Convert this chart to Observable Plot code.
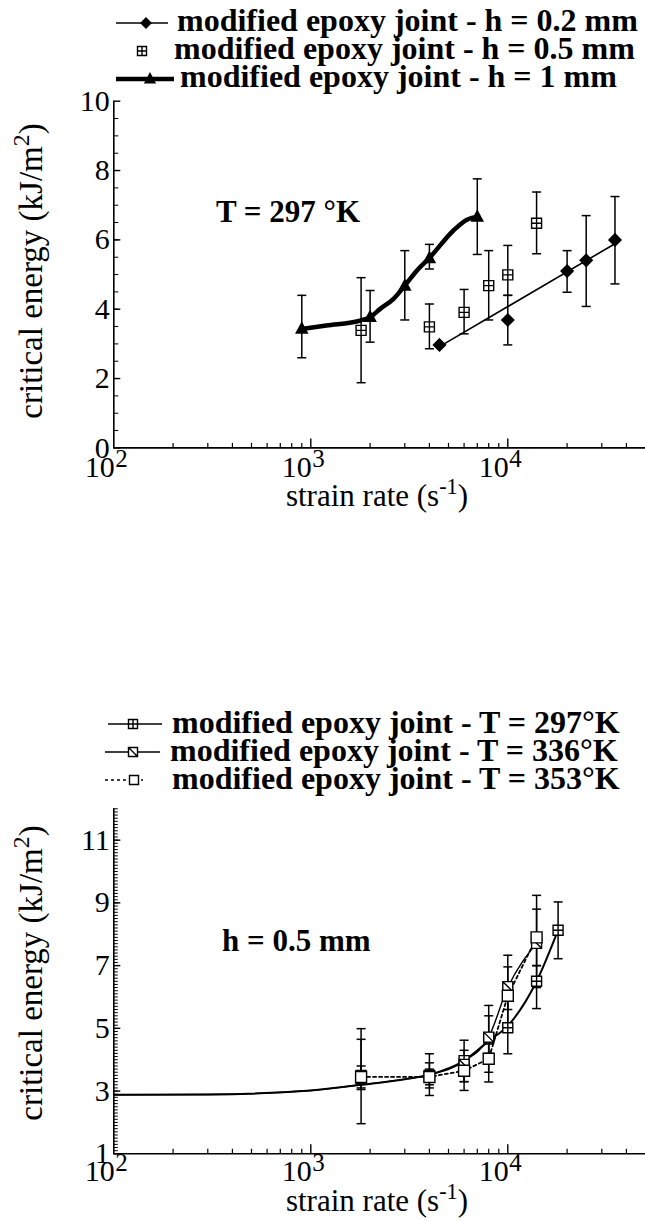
<!DOCTYPE html>
<html>
<head>
<meta charset="utf-8">
<script src="https://cdn.jsdelivr.net/npm/d3@7"></script>
<script src="https://cdn.jsdelivr.net/npm/@observablehq/plot@0.6"></script>
<style>
html,body{margin:0;padding:0;background:#fff;}
#page{position:relative;width:645px;height:1221px;overflow:hidden;background:#fff;}
.plot{position:absolute;left:0;}
#overlay{position:absolute;left:0;top:0;pointer-events:none;}
</style>
</head>
<body>
<div id="page">
  <div id="top" class="plot" style="top:85px"></div>
  <div id="bottom" class="plot" style="top:790px"></div>
  <svg id="overlay" width="645" height="1221"></svg>
</div>
<script>
// ---------------- data ----------------
const rateMajor = [100, 1000, 10000];
const rateExponent = ["2", "3", "4"];
const rateMinor = [200, 300, 400, 500, 600, 700, 800, 900, 2000, 3000, 4000, 5000, 6000, 7000, 8000, 9000, 20000, 30000, 40000];
const rateDomain = [100, 50000];

const topEnergyTicks = [0, 2, 4, 6, 8, 10];
const topEnergyDomain = [0, 10];
const botEnergyTicks = [1, 3, 5, 7, 9, 11];
const botEnergyDomain = [1, 12];

const xLabel = ["strain rate (s", "-1", ")"];
const yLabel = ["critical energy (kJ/m", "2", ")"];

// top panel (T = 297 K)
const topLegend = ["modified epoxy joint - h = 0.2 mm", "modified epoxy joint - h = 0.5 mm", "modified epoxy joint - h = 1 mm"];
const topNote = "T = 297 °K";

const h02Rate = [4500, 10000, 20000, 25000, 35000];
const h02Energy = [2.97, 3.69, 5.10, 5.41, 6.00];
const h02Low = [null, 2.97, 4.49, 4.08, 4.73];
const h02High = [null, 4.40, 5.69, 6.70, 7.25];
const h02FitRate = [4500, 35000];
const h02FitEnergy = [2.92, 5.89];

const h05Rate = [1800, 4000, 6000, 8000, 10000, 14000];
const h05Energy = [3.39, 3.49, 3.91, 4.68, 4.99, 6.48];
const h05Low = [1.88, 2.86, 3.29, 3.69, 4.40, 5.60];
const h05High = [4.91, 4.15, 4.57, 5.69, 5.84, 7.38];

const h1Rate = [900, 2000, 3000, 4000, 7000];
const h1Energy = [3.43, 3.77, 4.67, 5.47, 6.66];
const h1Low = [2.60, 3.05, 3.69, 5.16, 5.58];
const h1High = [4.40, 4.54, 5.69, 5.87, 7.76];
const h1FitRate = [900, 1200, 1800, 2000, 2250, 2630, 3000, 3460, 4000, 5300, 6200, 7000];
const h1FitEnergy = [3.43, 3.53, 3.68, 3.77, 4.01, 4.30, 4.68, 5.12, 5.48, 6.27, 6.58, 6.67];

// bottom panel (h = 0.5 mm)
const botLegend = ["modified epoxy joint - T = 297°K", "modified epoxy joint - T = 336°K", "modified epoxy joint - T = 353°K"];
const botNote = "h = 0.5 mm";

const t297Rate = [1800, 4000, 6000, 8000, 10000, 14000, 18000];
const t297Energy = [3.40, 3.50, 3.97, 4.70, 5.02, 6.50, 8.13];
const t297Low = [1.96, 2.86, 3.30, 4.20, 4.19, 5.63, 7.22];
const t297High = [4.99, 4.19, 4.62, 5.73, 5.90, 7.00, 9.03];
const t297FitRate = [100, 300, 1000, 1800, 3000, 4000, 6000, 8000, 10000, 14000, 18000];
const t297FitEnergy = [2.88, 2.89, 3.02, 3.20, 3.38, 3.52, 3.97, 4.60, 5.08, 6.50, 8.13];

const t336Rate = [1800, 4000, 6000, 8000, 10000, 14000];
const t336Energy = [3.50, 3.50, 3.85, 4.72, 6.33, 7.71];
const t336Low = [3.05, 3.10, 3.02, 3.60, 5.60, 6.30];
const t336High = [4.65, 3.90, 4.30, 5.40, 7.33, 8.80];
const t336FitRate = [100, 300, 1000, 1800, 3000, 4000, 6000, 8000, 10000, 14000];
const t336FitEnergy = [2.88, 2.89, 3.02, 3.20, 3.38, 3.52, 3.95, 4.72, 6.30, 7.71];

const t353Rate = [1800, 4000, 6000, 8000, 10000, 14000];
const t353Energy = [3.45, 3.45, 3.65, 4.03, 6.04, 7.90];
const t353Low = [3.10, 3.20, 3.30, 3.29, 5.00, 7.00];
const t353High = [3.80, 3.70, 3.90, 4.50, 6.96, 9.24];

// ---------------- helpers ----------------
const rows = (xs, ys, lo, hi) => xs.map((x, i) => ({rate: x, energy: ys[i], low: lo ? lo[i] : null, high: hi ? hi[i] : null}));
const FONT = '"Liberation Serif","Times New Roman",serif';

const sym = {
  squareCross: h => ({draw(c) { c.moveTo(-h, -h); c.lineTo(h, -h); c.lineTo(h, h); c.lineTo(-h, h); c.closePath(); c.moveTo(0, -h); c.lineTo(0, h); c.moveTo(-h, 0); c.lineTo(h, 0); }}),
  squareSlash: h => ({draw(c) { c.moveTo(-h, -h); c.lineTo(h, -h); c.lineTo(h, h); c.lineTo(-h, h); c.closePath(); c.moveTo(-h, -h); c.lineTo(h, h); }}),
  square: h => ({draw(c) { c.moveTo(-h, -h); c.lineTo(h, -h); c.lineTo(h, h); c.lineTo(-h, h); c.closePath(); }}),
  diamond: h => ({draw(c) { c.moveTo(0, -h); c.lineTo(h, 0); c.lineTo(0, h); c.lineTo(-h, 0); c.closePath(); }}),
  triangle: h => ({draw(c) { c.moveTo(0, -h * 1.1); c.lineTo(h, h * 0.75); c.lineTo(-h, h * 0.75); c.closePath(); }}),
  cap: h => ({draw(c) { c.moveTo(-h, 0); c.lineTo(h, 0); }})
};
const capSym = sym.cap(4.5);

function errorMarks(data) {
  const d = data.filter(r => r.low != null);
  return [
    Plot.ruleX(d, {x: "rate", y1: "low", y2: "high", stroke: "black", strokeWidth: 1.5}),
    Plot.dot(d, {x: "rate", y: "low", symbol: capSym, stroke: "black", fill: "none", strokeWidth: 1.5}),
    Plot.dot(d, {x: "rate", y: "high", symbol: capSym, stroke: "black", fill: "none", strokeWidth: 1.5})
  ];
}

const W = 645, ML = 113.3, MB = 60;

function frameMarks(yDomain, innerH, yTicks, yMinor, minorLen, tickDy) {
  const innerW = W - ML;
  const y0 = yDomain[0];
  return [
    Plot.tickX(rateMinor, {x: d => d, insetTop: innerH - 4.5, stroke: "black", strokeWidth: 1.2}),
    Plot.tickX(rateMajor.slice(1), {x: d => d, insetTop: innerH - 9, stroke: "black", strokeWidth: 1.4}),
    Plot.tickY(yMinor, {y: d => d, insetRight: innerW - minorLen, stroke: "black", strokeWidth: 1}),
    Plot.tickY(yTicks, {y: d => d, insetRight: innerW - 7, stroke: "black", strokeWidth: 1.4}),
    Plot.ruleY([y0], {stroke: "black", strokeWidth: 1.6}),
    Plot.ruleX([rateDomain[0]], {stroke: "black", strokeWidth: 1.6}),
    Plot.axisY({ticks: yTicks, tickSize: 0, tickPadding: 4, fontSize: 30, label: null, tickFormat: d => String(d)}),
    Plot.text(rateMajor, {x: d => d, y: () => y0, text: () => "10", textAnchor: "end", lineAnchor: "bottom", dy: tickDy, dx: 1, fontSize: 30}),
    Plot.text(rateMajor, {x: d => d, y: () => y0, text: (d, i) => rateExponent[i], textAnchor: "start", lineAnchor: "bottom", dy: tickDy - 10, dx: 1.5, fontSize: 25})
  ];
}

function makePlot({height, marginTop, yDomain, yTicks, yMinor, minorLen, tickDy, marks}) {
  const innerH = height - marginTop - MB;
  return Plot.plot({
    width: W, height, marginLeft: ML, marginRight: 0, marginTop, marginBottom: MB,
    x: {type: "log", domain: rateDomain, axis: null},
    y: {domain: yDomain},
    style: {fontFamily: FONT, color: "black", background: "transparent", overflow: "visible"},
    marks: [...frameMarks(yDomain, innerH, yTicks, yMinor, minorLen, tickDy), ...marks]
  });
}

// ---------------- top plot ----------------
const h02 = rows(h02Rate, h02Energy, h02Low, h02High);
const h05 = rows(h05Rate, h05Energy, h05Low, h05High);
const h1 = rows(h1Rate, h1Energy, h1Low, h1High);
const h02Fit = rows(h02FitRate, h02FitEnergy);
const h1Fit = rows(h1FitRate, h1FitEnergy);

const topPlot = makePlot({
  height: 422.4, marginTop: 15.7, yDomain: topEnergyDomain, yTicks: topEnergyTicks,
  yMinor: d3.range(0.5, 10, 0.5), minorLen: 5, tickDy: 29,
  marks: [
    Plot.line(h1Fit, {x: "rate", y: "energy", curve: "monotone-x", stroke: "black", strokeWidth: 4.5}),
    Plot.line(h02Fit, {x: "rate", y: "energy", stroke: "black", strokeWidth: 1.6}),
    ...errorMarks(h1), ...errorMarks(h05), ...errorMarks(h02),
    Plot.dot(h1, {x: "rate", y: "energy", symbol: sym.triangle(5.5), fill: "black", stroke: "black"}),
    Plot.dot(h05, {x: "rate", y: "energy", symbol: sym.squareCross(5), fill: "white", stroke: "black", strokeWidth: 1.4}),
    Plot.dot(h02, {x: "rate", y: "energy", symbol: sym.diamond(6), fill: "black", stroke: "black"})
  ]
});
document.getElementById("top").appendChild(topPlot);

// ---------------- bottom plot ----------------
const t297 = rows(t297Rate, t297Energy, t297Low, t297High);
const t336 = rows(t336Rate, t336Energy, t336Low, t336High);
const t353 = rows(t353Rate, t353Energy, t353Low, t353High);
const t297Fit = rows(t297FitRate, t297FitEnergy);
const t336Fit = rows(t336FitRate, t336FitEnergy);

const botPlot = makePlot({
  height: 423.3, marginTop: 18.3, yDomain: botEnergyDomain, yTicks: botEnergyTicks,
  yMinor: d3.range(1.1, 12.05, 0.1), minorLen: 4.5, tickDy: 27,
  marks: [
    Plot.line(t297Fit, {x: "rate", y: "energy", curve: "monotone-x", stroke: "black", strokeWidth: 2}),
    Plot.line(t336Fit, {x: "rate", y: "energy", curve: "monotone-x", stroke: "black", strokeWidth: 1.4}),
    Plot.line(t353, {x: "rate", y: "energy", stroke: "black", strokeWidth: 1.8, strokeDasharray: "3,3"}),
    ...errorMarks(t297), ...errorMarks(t336), ...errorMarks(t353),
    Plot.dot(t297, {x: "rate", y: "energy", symbol: sym.squareCross(5), fill: "white", stroke: "black", strokeWidth: 1.4}),
    Plot.dot(t336, {x: "rate", y: "energy", symbol: sym.squareSlash(5), fill: "white", stroke: "black", strokeWidth: 1.4}),
    Plot.dot(t353, {x: "rate", y: "energy", symbol: sym.square(5.5), fill: "white", stroke: "black", strokeWidth: 1.4})
  ]
});
document.getElementById("bottom").appendChild(botPlot);

// ---------------- overlay: legends, axis labels, notes ----------------
const ov = d3.select("#overlay").attr("font-family", FONT);

function legend(rowsSpec, labels) {
  const g = ov.append("g");
  rowsSpec.forEach(r => {
    if (r.line) {
      g.append("line").attr("x1", r.line[0]).attr("x2", r.line[1]).attr("y1", r.sy).attr("y2", r.sy)
        .attr("stroke", "black").attr("stroke-width", r.lw || 1.5).attr("stroke-dasharray", r.dash || null);
    }
    g.append("path").attr("transform", `translate(${r.sx},${r.sy})`)
      .attr("d", d3.symbol().type(r.symbol)())
      .attr("fill", r.fill).attr("stroke", "black").attr("stroke-width", 1.4);
  });
  const t = g.append("text").attr("font-size", 32).attr("font-weight", "bold");
  rowsSpec.forEach((r, i) => t.append("tspan").attr("x", r.tx).attr("y", r.ty).text(labels[i]));
}
legend([
  {line: [116, 168], sy: 23, sx: 146, symbol: sym.diamond(5), fill: "black", tx: 177, ty: 31},
  {line: null, sy: 51, sx: 142, symbol: sym.squareCross(4.5), fill: "white", tx: 174, ty: 59},
  {line: [116, 174], lw: 4.5, sy: 79, sx: 150, symbol: sym.triangle(5), fill: "black", tx: 180, ty: 87}
], topLegend);
legend([
  {line: [108, 162], sy: 724, sx: 133, symbol: sym.squareCross(4.5), fill: "white", tx: 172, ty: 733},
  {line: [105, 160], sy: 752, sx: 133, symbol: sym.squareSlash(4.5), fill: "white", tx: 170, ty: 761},
  {line: [105, 143], lw: 1.5, dash: "3,3", sy: 780, sx: 134, symbol: sym.square(4.5), fill: "white", tx: 172, ty: 789}
], botLegend);

function supLabel(g, parts, size) {
  const t = g.append("text").attr("font-size", size).attr("text-anchor", "middle");
  t.append("tspan").text(parts[0]);
  t.append("tspan").attr("font-size", size * 0.72).attr("dy", -size * 0.38).text(parts[1]);
  t.append("tspan").attr("dy", size * 0.38).text(parts[2]);
}
supLabel(ov.append("g").attr("transform", "translate(377,506)"), xLabel, 31);
supLabel(ov.append("g").attr("transform", "translate(377,1211)"), xLabel, 31);
supLabel(ov.append("g").attr("transform", "translate(42,271) rotate(-90)"), yLabel, 33);
supLabel(ov.append("g").attr("transform", "translate(42,973) rotate(-90)"), yLabel, 33);

ov.append("text").attr("x", 216).attr("y", 222).attr("font-size", 31).attr("font-weight", "bold").text(topNote);
ov.append("text").attr("x", 222).attr("y", 951).attr("font-size", 31).attr("font-weight", "bold").text(botNote);
</script>
</body>
</html>
